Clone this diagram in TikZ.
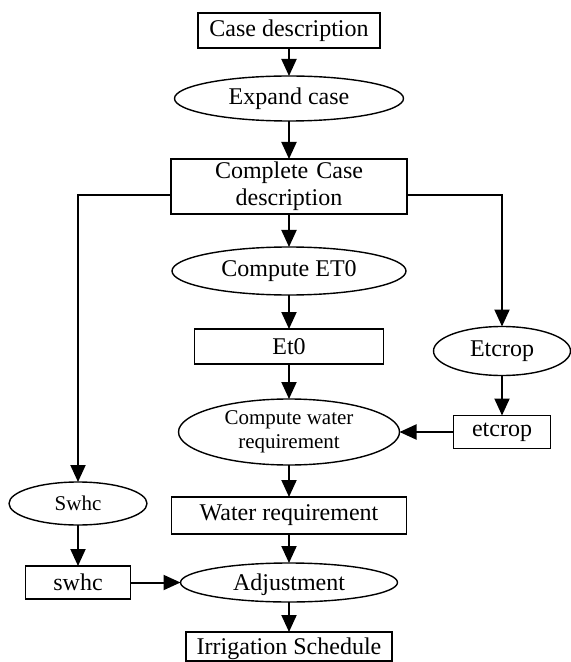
\documentclass[tikz,border=0pt]{standalone}
\usepackage{fontspec}
\setmainfont{Liberation Serif}
\usetikzlibrary{positioning, shapes.geometric, arrows.meta}
\tikzset{
	proc/.style={draw, rectangle, inner sep=0pt, outer sep=0pt, line width=0.7pt, font=\fontsize{12}{13.5}\selectfont, align=center},
	task/.style={draw, ellipse, inner sep=0pt, outer sep=0pt, line width=0.7pt, font=\fontsize{12}{13.5}\selectfont, align=center},
	% smaller text in some of the ellipses
	small/.style={font=\fontsize{10.5}{12}\selectfont},
}

\begin{document}
\begin{tikzpicture}[x=0.5pt, y=-0.5pt]
		\useasboundingbox (0,0) rectangle (571,662);
		
		\node (casedesc) [proc, minimum width=91pt, minimum height=17.5pt] at (289,30.5) {Case description};
		
		\node (expand) [task, below=14pt of casedesc, minimum width=114.5pt, minimum height=22.5pt] {Expand case};
		
		\node (complete) [proc, below=19pt of expand, minimum width=118pt, minimum height=27.5pt, text width=118pt] {Complete Case\\description};
		
		\node (compet) [task, below=16.5pt of complete, minimum width=117pt, minimum height=24pt] {Compute ET0};
		
		\node (etzero) [proc, below=17pt of compet, minimum width=94.5pt, minimum height=17.5pt] {Et0};
		
		\node (cwater) [task, small, below=17.5pt of etzero, minimum width=110.5pt, minimum height=33pt] {Compute water\\requirement};
		
		\node (waterreq) [proc, below=16pt of cwater, minimum width=117.5pt, minimum height=18.5pt] {Water requirement};
		
		\node (adjust) [task, below=14.5pt of waterreq, minimum width=108.5pt, minimum height=19.5pt, text depth=0pt] {Adjustment};
		
		\node (irrig) [proc, below=15pt of adjust, minimum width=103pt, minimum height=14.5pt, text depth=0pt] {Irrigation Schedule};
		
		% left branch
		\node (swhcbox) [proc, left=25pt of adjust, minimum width=52.5pt, minimum height=16.5pt] {swhc};
		\node (swhc) [task, small, above=20.5pt of swhcbox, minimum width=69pt, minimum height=21.5pt] {Swhc};
		
		% right branch
		\node (etcropbox) [proc, right=27pt of cwater, minimum width=48.5pt, minimum height=16.5pt] {etcrop};
		\node (etcrop) [task, above=20pt of etcropbox, minimum width=68.5pt, minimum height=24.5pt] {Etcrop};
		
		\begin{scope}[line width=1pt, black, ->, >={Triangle[length=8.5pt, width=7.5pt]}]
			\draw (casedesc) -- (expand);
			\draw (expand) -- (complete);
			\draw (complete) -- (compet);
			\draw (compet) -- (etzero);
			\draw (etzero) -- (cwater);
			\draw (cwater) -- (waterreq);
			\draw (waterreq) -- (adjust);
			\draw (adjust) -- (irrig);
			\draw ([yshift=-4.25pt]complete.west) -| (swhc);
			\draw ([yshift=-4.25pt]complete.east) -| (etcrop);
			\draw (swhc) -- (swhcbox);
			\draw (swhcbox) -- (adjust);
			\draw (etcrop) -- (etcropbox);
			\draw (etcropbox) -- (cwater);
		\end{scope}
	\end{tikzpicture}
\end{document}
